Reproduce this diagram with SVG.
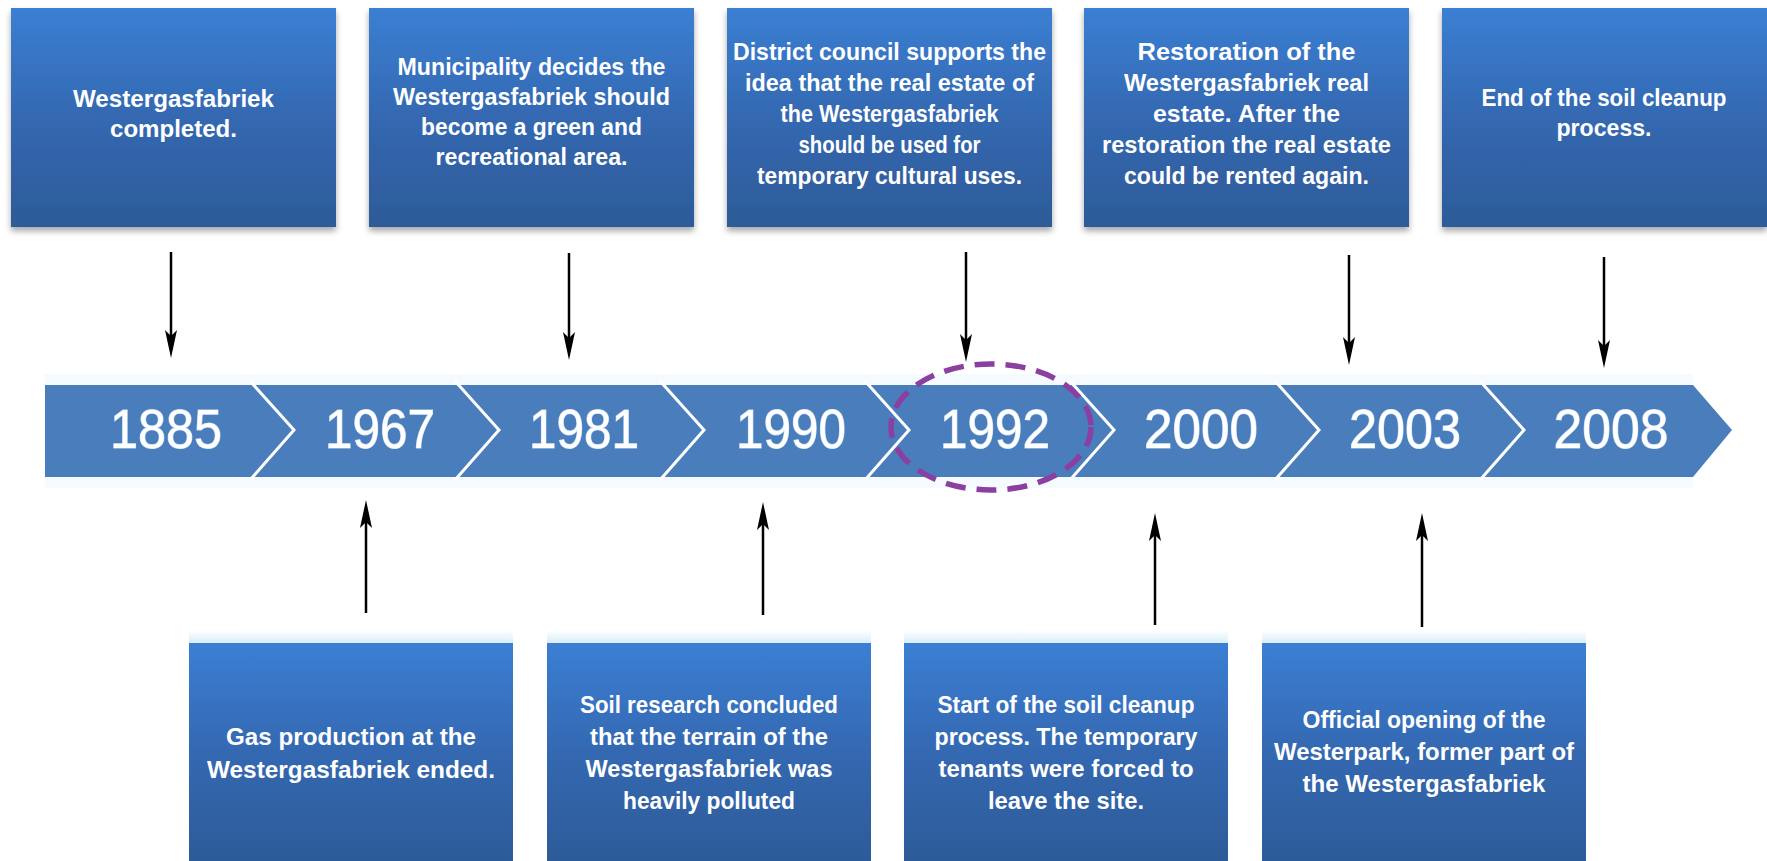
<svg xmlns="http://www.w3.org/2000/svg" width="1767" height="861" viewBox="0 0 1767 861">
<style>
.box{fill:url(#boxg);}
.t{font-family:"Liberation Sans",Arial,sans-serif;font-weight:bold;font-size:24px;fill:#ffffff;text-anchor:middle;}
.yr{font-family:"Liberation Sans",Arial,sans-serif;font-size:56px;fill:#ffffff;text-anchor:middle;stroke:#bcd6f0;stroke-width:1.2;paint-order:stroke;}
.sep{fill:none;stroke:#ffffff;stroke-width:3;}
.arr{stroke:#000000;stroke-width:2.5;fill:none;marker-end:url(#ah);}
</style>
<defs>
<linearGradient id="boxg" x1="0" y1="0" x2="0" y2="1">
<stop offset="0" stop-color="#3b7fd3"/>
<stop offset="0.5" stop-color="#3468b1"/>
<stop offset="1" stop-color="#2d5b98"/>
</linearGradient>
<linearGradient id="topglow" x1="0" y1="0" x2="0" y2="1">
<stop offset="0" stop-color="#ffffff"/>
<stop offset="1" stop-color="#d6ecf8"/>
</linearGradient>
<filter id="sh" x="-5%" y="-5%" width="110%" height="115%">
<feDropShadow dx="0" dy="4" stdDeviation="3" flood-color="#000000" flood-opacity="0.35"/>
</filter>
<marker id="ah" markerUnits="userSpaceOnUse" viewBox="0 -7 30 14" refX="18" refY="0" markerWidth="30" markerHeight="14" orient="auto">
<path d="M0,-6 L28,0 L0,6 L6,0 Z" fill="#000000"/>
</marker>
</defs>
<rect width="1767" height="861" fill="#ffffff"/>

<g id="timeline">
<rect x="45" y="374" width="1648" height="114" fill="#f4fafd"/>
<path d="M45,385 L1693,385 L1732,430 L1693,477 L45,477 Z" fill="#4a7dbc"/>
<polyline class="sep" points="250,381 294,430 250,480"/>
<polyline class="sep" points="455,381 499,430 455,480"/>
<polyline class="sep" points="660,381 704,430 660,480"/>
<polyline class="sep" points="865,381 909,430 865,480"/>
<polyline class="sep" points="1070,381 1114,430 1070,480"/>
<polyline class="sep" points="1275,381 1319,430 1275,480"/>
<polyline class="sep" points="1480,381 1524,430 1480,480"/>
<text class="yr" x="166" y="448" textLength="112" lengthAdjust="spacingAndGlyphs">1885</text>
<text class="yr" x="380" y="448" textLength="110" lengthAdjust="spacingAndGlyphs">1967</text>
<text class="yr" x="584" y="448" textLength="110" lengthAdjust="spacingAndGlyphs">1981</text>
<text class="yr" x="791" y="448" textLength="110" lengthAdjust="spacingAndGlyphs">1990</text>
<text class="yr" x="995" y="448" textLength="110" lengthAdjust="spacingAndGlyphs">1992</text>
<text class="yr" x="1201" y="448" textLength="114" lengthAdjust="spacingAndGlyphs">2000</text>
<text class="yr" x="1405" y="448" textLength="112" lengthAdjust="spacingAndGlyphs">2003</text>
<text class="yr" x="1611" y="448" textLength="115" lengthAdjust="spacingAndGlyphs">2008</text>
</g>

<g id="highlight">
<ellipse cx="991" cy="427" rx="100" ry="63" fill="none" stroke="#8b3fa0" stroke-width="5.5" stroke-dasharray="20 11"/>
</g>

<g id="top1">
<rect class="box" x="11" y="8" width="325" height="219" filter="url(#sh)"/>
<text class="t" x="173.5" y="107" textLength="201" lengthAdjust="spacingAndGlyphs">Westergasfabriek</text>
<text class="t" x="173.5" y="137" textLength="127" lengthAdjust="spacingAndGlyphs">completed.</text>
</g>
<g id="top2">
<rect class="box" x="369" y="8" width="325" height="219" filter="url(#sh)"/>
<text class="t" x="531.5" y="75" textLength="268" lengthAdjust="spacingAndGlyphs">Municipality decides the</text>
<text class="t" x="531.5" y="105" textLength="277" lengthAdjust="spacingAndGlyphs">Westergasfabriek should</text>
<text class="t" x="531.5" y="135" textLength="221" lengthAdjust="spacingAndGlyphs">become a green and</text>
<text class="t" x="531.5" y="165" textLength="192" lengthAdjust="spacingAndGlyphs">recreational area.</text>
</g>
<g id="top3">
<rect class="box" x="727" y="8" width="325" height="219" filter="url(#sh)"/>
<text class="t" x="889.5" y="60" textLength="313" lengthAdjust="spacingAndGlyphs">District council supports the</text>
<text class="t" x="889.5" y="91" textLength="289" lengthAdjust="spacingAndGlyphs">idea that the real estate of</text>
<text class="t" x="889.5" y="122" textLength="218" lengthAdjust="spacingAndGlyphs">the Westergasfabriek</text>
<text class="t" x="889.5" y="153" textLength="182" lengthAdjust="spacingAndGlyphs">should be used for</text>
<text class="t" x="889.5" y="184" textLength="265" lengthAdjust="spacingAndGlyphs">temporary cultural uses.</text>
</g>
<g id="top4">
<rect class="box" x="1084" y="8" width="325" height="219" filter="url(#sh)"/>
<text class="t" x="1246.5" y="60" textLength="218" lengthAdjust="spacingAndGlyphs">Restoration of the</text>
<text class="t" x="1246.5" y="91" textLength="245" lengthAdjust="spacingAndGlyphs">Westergasfabriek real</text>
<text class="t" x="1246.5" y="122" textLength="187" lengthAdjust="spacingAndGlyphs">estate. After the</text>
<text class="t" x="1246.5" y="153" textLength="289" lengthAdjust="spacingAndGlyphs">restoration the real estate</text>
<text class="t" x="1246.5" y="184" textLength="245" lengthAdjust="spacingAndGlyphs">could be rented again.</text>
</g>
<g id="top5">
<rect class="box" x="1442" y="8" width="325" height="219" filter="url(#sh)"/>
<text class="t" x="1604" y="106" textLength="245" lengthAdjust="spacingAndGlyphs">End of the soil cleanup</text>
<text class="t" x="1604" y="136" textLength="95" lengthAdjust="spacingAndGlyphs">process.</text>
</g>

<g id="bot1">
<rect x="189" y="630" width="324" height="14" fill="url(#topglow)"/>
<rect class="box" x="189" y="643" width="324" height="220"/>
<text class="t" x="351" y="745" textLength="250" lengthAdjust="spacingAndGlyphs">Gas production at the</text>
<text class="t" x="351" y="778" textLength="288" lengthAdjust="spacingAndGlyphs">Westergasfabriek ended.</text>
</g>
<g id="bot2">
<rect x="547" y="630" width="324" height="14" fill="url(#topglow)"/>
<rect class="box" x="547" y="643" width="324" height="220"/>
<text class="t" x="709" y="713" textLength="258" lengthAdjust="spacingAndGlyphs">Soil research concluded</text>
<text class="t" x="709" y="745" textLength="238" lengthAdjust="spacingAndGlyphs">that the terrain of the</text>
<text class="t" x="709" y="777" textLength="247" lengthAdjust="spacingAndGlyphs">Westergasfabriek was</text>
<text class="t" x="709" y="809" textLength="172" lengthAdjust="spacingAndGlyphs">heavily polluted</text>
</g>
<g id="bot3">
<rect x="904" y="630" width="324" height="14" fill="url(#topglow)"/>
<rect class="box" x="904" y="643" width="324" height="220"/>
<text class="t" x="1066" y="713" textLength="257" lengthAdjust="spacingAndGlyphs">Start of the soil cleanup</text>
<text class="t" x="1066" y="745" textLength="263" lengthAdjust="spacingAndGlyphs">process. The temporary</text>
<text class="t" x="1066" y="777" textLength="255" lengthAdjust="spacingAndGlyphs">tenants were forced to</text>
<text class="t" x="1066" y="809" textLength="156" lengthAdjust="spacingAndGlyphs">leave the site.</text>
</g>
<g id="bot4">
<rect x="1262" y="630" width="324" height="14" fill="url(#topglow)"/>
<rect class="box" x="1262" y="643" width="324" height="220"/>
<text class="t" x="1424" y="728" textLength="243" lengthAdjust="spacingAndGlyphs">Official opening of the</text>
<text class="t" x="1424" y="760" textLength="300" lengthAdjust="spacingAndGlyphs">Westerpark, former part of</text>
<text class="t" x="1424" y="792" textLength="243" lengthAdjust="spacingAndGlyphs">the Westergasfabriek</text>
</g>

<g id="connectors">
<line class="arr" x1="171" y1="252" x2="171" y2="348"/>
<line class="arr" x1="569" y1="253" x2="569" y2="350"/>
<line class="arr" x1="966" y1="252" x2="966" y2="352"/>
<line class="arr" x1="1349" y1="255" x2="1349" y2="355"/>
<line class="arr" x1="1604" y1="257" x2="1604" y2="358"/>
<line class="arr" x1="366" y1="613" x2="366" y2="510"/>
<line class="arr" x1="763" y1="615" x2="763" y2="512"/>
<line class="arr" x1="1155" y1="625" x2="1155" y2="523"/>
<line class="arr" x1="1422" y1="627" x2="1422" y2="523"/>
</g>
</svg>
